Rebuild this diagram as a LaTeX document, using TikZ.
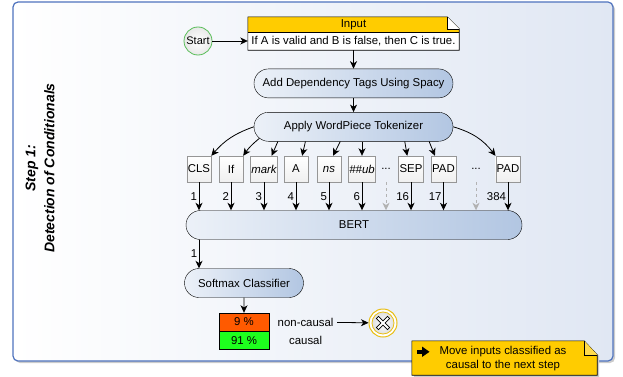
\documentclass[tikz,border=0pt]{standalone}
\usepackage{fontspec}
\setmainfont{Liberation Sans}
\usetikzlibrary{shapes.misc}
\usetikzlibrary{positioning}
\usetikzlibrary{arrows.meta}
\usetikzlibrary{calc}

\definecolor{framebl}{RGB}{79,115,190}
\definecolor{framebg}{RGB}{224,231,243}
\definecolor{procl}{RGB}{236,241,248}
\definecolor{procr}{RGB}{178,198,226}
\definecolor{tokgray}{RGB}{150,150,150}
\definecolor{startgreen}{RGB}{90,190,90}
\definecolor{inyellow}{RGB}{255,204,0}
\definecolor{pnon}{RGB}{255,90,0}
\definecolor{pcaus}{RGB}{30,255,30}
\definecolor{endyellow}{RGB}{232,190,20}

\begin{document}
\begin{tikzpicture}
		[x=1pt, y=1pt, >={Stealth[length=7.5pt, width=7pt, inset=2.2pt]}, font=\fontsize{11.4}{13}\selectfont,
		proc/.style = {draw, rounded rectangle, left color=procl, right color=procr, minimum height=29pt, inner sep=0pt},
		tok/.style = {draw=tokgray, top color=white, bottom color=gray!12, minimum width=24pt, minimum height=26pt, inner xsep=1pt},
		arr/.style = {->, line width=0.8pt},
		barr/.style = {->, line width=1pt},
		num/.style = {left, inner sep=1.5pt}]
	\useasboundingbox (0,0) rectangle (623,376);
	\fill[black!20, rounded corners=5pt] (15,13) rectangle (615,372);
	\shade[rounded corners=5pt, left color=white, right color=framebg] (13,15) rectangle (613,374);
	\draw[framebl, line width=1.2pt, rounded corners=5pt] (13,15) rectangle (613,374);
	\node[rotate=90, align=center, font=\fontsize{14}{19}\selectfont\bfseries\itshape] (step) at (40,208) {Step 1:\\Detection of Conditionals};
	\node[draw=startgreen, line width=0.8pt, circle, minimum size=28pt, inner sep=0pt, inner color=white, outer color=gray!18, font=\fontsize{11}{12}\selectfont] (start) at (198,335) {Start};
	\node[minimum width=211pt, minimum height=33pt, inner sep=0pt] (in) at (353.5,342.5) {};
	\fill[inyellow] (in.north west) -- ($(in.north east)+(-12,0)$) -- ($(in.north east)+(0,-12)$) -- ($(in.north east)+(0,-15)$) -- ($(in.north west)+(0,-15)$) -- cycle;
	\fill[white] ($(in.north west)+(0,-15)$) rectangle (in.south east);
	\draw[line width=0.6pt] (in.north west) -- ($(in.north east)+(-12,0)$) -- ($(in.north east)+(0,-12)$) -- (in.south east) -- (in.south west) -- cycle;
	\draw[line width=0.6pt] ($(in.north west)+(0,-15)$) -- ($(in.north east)+(0,-15)$);
	\draw[line width=0.6pt, fill=white] ($(in.north east)+(-12,0)$) -- ($(in.north east)+(-12,-12)$) -- ($(in.north east)+(0,-12)$);
	\node (inlab) at (353.5,351.5) {Input};
	\node (insent) at (353.5,335) {If A is valid and B is false, then C is true.};
	\node[proc, minimum width=199pt] (dep) [below=18.5pt of in] {Add Dependency Tags Using Spacy};
	\node[proc, minimum width=199pt] (wp) [below=14pt of dep] {Apply WordPiece Tokenizer};
	\node[tok] (t1) at (199,207) {CLS};
	\node[tok] (t2) at (231,207) {If};
	\node[tok] (t3) at (264,207) {\itshape mark};
	\node[tok] (t4) at (296,207) {A};
	\node[tok] (t5) at (329,207) {\itshape ns};
	\node[tok] (t6) at (362,207) {\itshape \#\#ub};
	\node (d1) at (386,207) {...};
	\node[tok] (t8) at (411,207) {SEP};
	\node[tok] (t9) at (443.5,207) {PAD};
	\node (d2) at (476,207) {...};
	\node[tok] (t11) at (508,207) {PAD};
	\node[proc, minimum width=336pt] (bert) at (354,151) {BERT};
	\node[proc, minimum width=119pt] (sm) at (244,93) {Softmax Classifier};
	\node[draw, fill=pnon, minimum width=50pt, minimum height=18pt, inner sep=0pt] (p1) at (244,54) {9 \%};
	\node[draw, fill=pcaus, minimum width=50pt, minimum height=18pt, inner sep=0pt] (p2) [below=0pt of p1] {91 \%};
	\node (nc) [right=5pt of p1] {non-causal};
	\node (c) at (nc |- p2) {causal};
	\node[circle, draw=endyellow, line width=1pt, minimum size=28pt, fill=white] (end) at (383,53) {};
	\draw[endyellow, line width=0.8pt, inner color=white, outer color=gray!25] (end) circle (11pt);
	\draw[line width=3.6pt] ($(end)+(-5.8,-5.8)$) -- ($(end)+(5.8,5.8)$) ($(end)+(-5.8,5.8)$) -- ($(end)+(5.8,-5.8)$);
	\draw[white, line width=1.8pt] ($(end)+(-5.2,-5.2)$) -- ($(end)+(5.2,5.2)$) ($(end)+(-5.2,5.2)$) -- ($(end)+(5.2,-5.2)$);
	\node[minimum width=185pt, minimum height=34pt, inner sep=0pt] (note) at (504.5,18) {};
	\fill[black!20] ($(note.north west)+(2,-2)$) -- ($(note.north east)+(-11,-2)$) -- ($(note.north east)+(2,-15)$) -- ($(note.south east)+(2,-2)$) -- ($(note.south west)+(2,-2)$) -- cycle;
	\draw[line width=0.6pt, fill=inyellow] (note.north west) -- ($(note.north east)+(-13,0)$) -- ($(note.north east)+(0,-14)$) -- (note.south east) -- (note.south west) -- cycle;
	\draw[line width=0.6pt, fill=inyellow!70] ($(note.north east)+(-13,0)$) -- ($(note.north east)+(-13,-14)$) -- ($(note.north east)+(0,-14)$);
	\fill (417,22) rectangle (423,26.5);
	\fill (422,29.5) -- (429.5,24.2) -- (422,19) -- cycle;
	\node[align=center, font=\fontsize{11.4}{14}\selectfont] (notetxt) at (503,17.5) {Move inputs classified as\\causal to the next step};
	\draw[arr] (start.east) -- (start.east -| in.west);
	\draw[arr] (in.south) -- (dep.north);
	\draw[arr] (dep) -- (wp);
	\draw[arr] (wp.west) to[bend right=15] (t1.north east);
	\draw[arr] (wp.187) to[bend right=8] (t2.north east);
	\draw[arr] (wp.191) -- (t3.60);
	\draw[arr] (wp.197) -- (t4.65);
	\draw[arr] (wp.228) -- (t5.73);
	\draw[arr] (t6 |- wp.south) -- (t6.north);
	\draw[arr] (wp.344) -- (t8.106);
	\draw[arr] (wp.349) -- (t9.123);
	\draw[arr] (wp.east) to[bend left=18] (t11.north west);
	\draw[barr] (t1.south) -- node[num] {1} (t1 |- bert.north);
	\draw[barr] (t2.south) -- node[num] {2} (t2 |- bert.north);
	\draw[barr] (t3.south) -- node[num] {3} (t3 |- bert.north);
	\draw[barr] (t4.south) -- node[num] {4} (t4 |- bert.north);
	\draw[barr] (t5.south) -- node[num] {5} (t5 |- bert.north);
	\draw[barr] (t6.south) -- node[num] {6} (t6 |- bert.north);
	\draw[barr, gray!60, dashed] (d1 |- t1.south) -- (d1 |- bert.north);
	\draw[barr] (t8.south) -- node[num] {16} (t8 |- bert.north);
	\draw[barr] (t9.south) -- node[num] {17} (t9 |- bert.north);
	\draw[barr, gray!60, dashed] (d2 |- t1.south) -- (d2 |- bert.north);
	\draw[barr] (t11.south) -- node[num] {384} (t11 |- bert.north);
	\draw[arr] (bert.south -| t1) -- node[num] {1} (sm.north -| t1);
	\draw[arr] (sm) -- (p1);
	\draw[arr] (nc) -- (end);
\end{tikzpicture}
\end{document}
